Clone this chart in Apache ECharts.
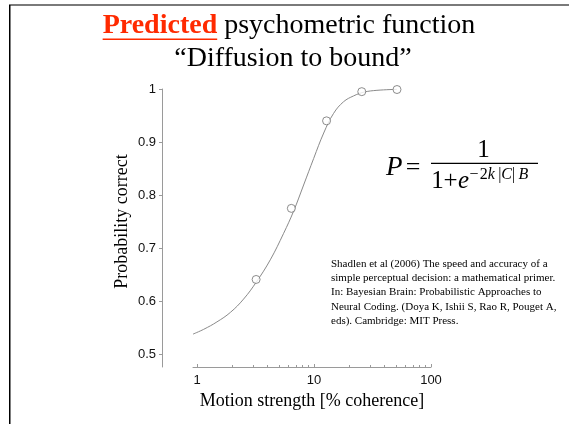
<!DOCTYPE html>
<html>
<head>
<meta charset="utf-8">
<script src="https://cdn.jsdelivr.net/npm/echarts@6/dist/echarts.min.js"></script>
<style>
  html, body { margin: 0; padding: 0; background: #fff; }
  #chart { width: 569px; height: 424px; }
</style>
</head>
<body>
<div id="chart"></div>
<script>
// Measured conditions: motion coherence (%) and proportion of correct choices
const coherence = [3.2, 6.4, 12.8, 25.6, 51.2];
const propCorrect = [0.641, 0.775, 0.94, 0.995, 0.999];

// Predicted psychometric curve (diffusion to bound), sampled along coherence
const curveCoherence = [0.924, 1.14, 1.48, 1.93, 2.5, 3.21, 4.23, 5.5, 6.7, 8.15, 9.93, 12.1, 14.7, 17.9, 21.8, 26.6, 34.5, 51.2];
const curveProb = [0.538, 0.547, 0.561, 0.579, 0.604, 0.636, 0.678, 0.728, 0.770, 0.819, 0.869, 0.917, 0.954, 0.976, 0.987, 0.994, 0.9975, 0.9994];

// Axis ticks
const xTicks = [1, 10, 100];
const xMinorTicks = [2, 3, 4, 5, 6, 7, 8, 9, 20, 30, 40, 50, 60, 70, 80, 90];
const yTicks = [0.5, 0.6, 0.7, 0.8, 0.9, 1];

// Texts
const titleMain = 'Predicted';
const titleRest = ' psychometric function';
const titleLine2 = '“Diffusion to bound”';
const xName = 'Motion strength [% coherence]';
const yName = 'Probability correct';
const citation = [
  'Shadlen et al (2006) The speed and accuracy of a',
  'simple perceptual decision: a mathematical primer.',
  'In: Bayesian Brain: Probabilistic Approaches to',
  'Neural Coding. (Doya K, Ishii S, Rao R, Pouget A,',
  'eds). Cambridge: MIT Press.'
];

const serif = '"Liberation Serif", "Times New Roman", serif';
const sans = '"Liberation Sans", Arial, Helvetica, sans-serif';

// Width of the title pieces, used to centre the line and underline the first word
const mctx = document.createElement('canvas').getContext('2d');
mctx.font = 'bold 28px ' + serif;
const wMain = mctx.measureText(titleMain).width;
mctx.font = '28px ' + serif;
const wRest = mctx.measureText(titleRest).width;
const titleLeft = 289 - (wMain + wRest) / 2;

const chart = echarts.init(document.getElementById('chart'), null, { renderer: 'canvas' });

const axisGrey = '#9a9a9a';

const option = {
  animation: false,
  backgroundColor: '#fff',
  grid: { left: 193, right: 138, top: 89, bottom: 57, containLabel: false, outerBoundsMode: 'none' },
  xAxis: [
    {
      type: 'log', logBase: 10, min: 0.924, max: 100, position: 'bottom',
      name: xName, nameLocation: 'middle', nameGap: 21,
      nameTextStyle: { fontFamily: serif, fontSize: 18, color: '#000' },
      axisLine: { show: true, lineStyle: { color: axisGrey, width: 1 } },
      axisTick: { show: true, inside: true, length: 3, customValues: xTicks, lineStyle: { color: axisGrey } },
      axisLabel: { customValues: xTicks, margin: 7, fontFamily: sans, fontSize: 13, color: '#111',
                   formatter: v => String(v) },
      splitLine: { show: false }
    },
    {
      // minor ticks between the decades
      type: 'log', logBase: 10, min: 0.924, max: 100, position: 'bottom',
      axisLine: { show: false },
      axisLabel: { show: false },
      axisTick: { show: true, inside: true, length: 2, customValues: xMinorTicks, lineStyle: { color: axisGrey } },
      splitLine: { show: false }
    }
  ],
  yAxis: {
    type: 'value', min: 0.476, max: 1, offset: 31,
    name: yName, nameLocation: 'middle', nameGap: 31,
    nameTextStyle: { fontFamily: serif, fontSize: 18, color: '#000', padding: [0, 0, 0, 13] },
    axisLine: { show: true, lineStyle: { color: axisGrey, width: 1 } },
    axisTick: { show: true, inside: false, length: 3, customValues: yTicks, lineStyle: { color: axisGrey } },
    axisLabel: { customValues: yTicks, margin: 6, fontFamily: sans, fontSize: 13, color: '#111',
                 formatter: v => String(Math.round(v * 10) / 10) },
    splitLine: { show: false }
  },
  series: [
    {
      type: 'line', name: 'prediction', xAxisIndex: 0,
      data: curveCoherence.map((c, i) => [c, curveProb[i]]),
      showSymbol: false, smooth: 0.4, clip: false,
      lineStyle: { color: '#8a8a8a', width: 1 }
    },
    {
      type: 'scatter', name: 'data', xAxisIndex: 0,
      data: coherence.map((c, i) => [c, propCorrect[i]]),
      symbol: 'circle', symbolSize: 8, z: 3,
      itemStyle: { color: '#fff', borderColor: '#707070', borderWidth: 1 }
    }
  ],
  graphic: [
    // slide frame
    { type: 'rect', shape: { x: 9, y: 4, width: 560, height: 2 }, style: { fill: '#7a7a7a' } },
    { type: 'rect', shape: { x: 9, y: 5, width: 1.5, height: 419 }, style: { fill: '#000' } },
    // title
    {
      type: 'text', x: titleLeft, y: 25.5,
      style: {
        text: '{r|' + titleMain + '}{n|' + titleRest + '}',
        align: 'left', verticalAlign: 'middle',
        rich: {
          r: { font: 'bold 28px ' + serif, fill: '#ff2a00' },
          n: { font: '28px ' + serif, fill: '#000' }
        }
      }
    },
    { type: 'rect', shape: { x: titleLeft, y: 38.5, width: wMain, height: 1.6 }, style: { fill: '#ff2a00' } },
    {
      type: 'text', x: 293, y: 59,
      style: { text: titleLine2, font: '28px ' + serif, fill: '#000', align: 'center', verticalAlign: 'middle' }
    },
    // formula P = 1 / (1 + e^(-2k|C|B))
    {
      type: 'text', x: 386, y: 168,
      style: { text: 'P', font: 'italic 27px ' + serif, fill: '#000', align: 'left', verticalAlign: 'middle' }
    },
    {
      type: 'text', x: 413, y: 168,
      style: { text: '=', font: '26px ' + serif, fill: '#000', align: 'center', verticalAlign: 'middle' }
    },
    { type: 'rect', shape: { x: 431, y: 162.8, width: 107, height: 1.3 }, style: { fill: '#000' } },
    {
      type: 'text', x: 483.5, y: 150,
      style: { text: '1', font: '25px ' + serif, fill: '#000', align: 'center', verticalAlign: 'middle' }
    },
    {
      type: 'text', x: 437.5, y: 181.5,
      style: { text: '1', font: '25px ' + serif, fill: '#000', align: 'center', verticalAlign: 'middle' }
    },
    {
      type: 'text', x: 450.5, y: 181.5,
      style: { text: '+', font: '25px ' + serif, fill: '#000', align: 'center', verticalAlign: 'middle' }
    },
    {
      type: 'text', x: 463.5, y: 181.5,
      style: { text: 'e', font: 'italic 25px ' + serif, fill: '#000', align: 'center', verticalAlign: 'middle' }
    },
    {
      type: 'text', x: 469.5, y: 175,
      style: {
        text: '{n|\u2212\u200a2}{i|k}{n|\u2009|}{i|C}{n||\u2009}{i|B}',
        align: 'left', verticalAlign: 'middle',
        rich: {
          n: { font: '16px ' + serif, fill: '#000' },
          i: { font: 'italic 16px ' + serif, fill: '#000' }
        }
      }
    },
    // reference
    {
      type: 'text', x: 331, y: 256.5,
      style: {
        text: citation.join('\n'), font: '11px ' + serif, lineHeight: 14.4,
        fill: '#000', align: 'left', verticalAlign: 'top'
      }
    }
  ]
};

chart.setOption(option);
</script>
</body>
</html>
